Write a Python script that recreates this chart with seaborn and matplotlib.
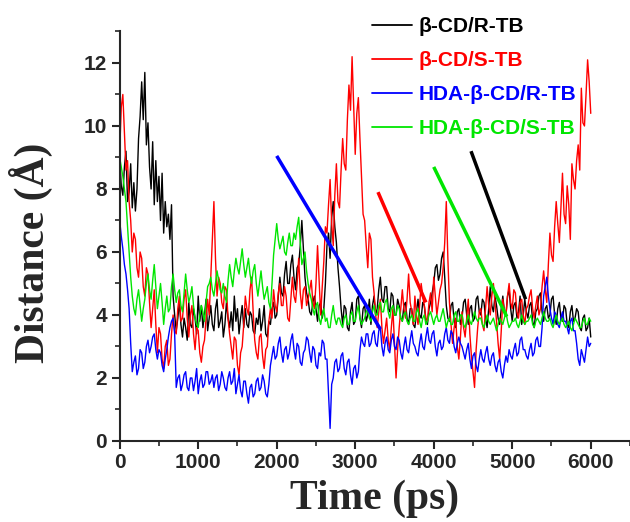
import numpy as np
import pandas as pd
import matplotlib
matplotlib.use("Agg")
import matplotlib.pyplot as plt
from matplotlib.ticker import MultipleLocator
import seaborn as sns

# Time axis (ps), one sample every 20 ps
time_ps = list(range(0, 6001, 20))

labels = ["β-CD/R-TB", "β-CD/S-TB", "HDA-β-CD/R-TB", "HDA-β-CD/S-TB"]
colors = ["#000000", "#ff0000", "#0000ff", "#00e600"]

bcd_r = [9.0, 8.1, 7.8, 8.7, 9.2, 7.6, 7.9, 8.8, 7.4, 8.2, 7.3, 8.0, 9.6, 10.3, 11.4, 10.2, 11.7, 9.4, 10.1, 8.7,
         8.0, 9.5, 7.5, 8.9, 7.6, 8.4, 7.0, 8.5, 6.6, 7.6, 6.8, 7.2, 6.4, 7.5, 4.6, 4.0, 3.5, 3.9, 4.4, 3.7,
         3.3, 3.9, 3.6, 3.2, 4.4, 3.7, 3.6, 4.2, 3.9, 3.4, 4.6, 3.8, 4.3, 3.6, 4.0, 4.5, 3.5, 3.9, 4.3, 3.7,
         3.5, 4.2, 4.5, 3.6, 3.8, 4.1, 3.3, 3.7, 4.4, 3.9, 3.6, 4.1, 3.5, 4.6, 3.8, 4.2, 3.4, 3.9, 4.3, 3.6,
         4.2, 3.7, 3.6, 4.1, 4.0, 3.5, 3.4, 3.9, 3.7, 4.2, 3.5, 3.8, 4.3, 3.4, 3.3, 3.8, 3.7, 4.2, 4.4, 3.9,
         4.0, 4.6, 5.2, 4.7, 4.6, 5.3, 5.7, 5.0, 5.0, 5.6, 5.9, 5.2, 4.8, 5.5, 5.6, 6.2, 7.0, 6.1, 5.2, 4.7,
         4.5, 4.1, 4.0, 4.4, 4.6, 4.2, 3.8, 4.3, 4.4, 3.9, 4.2, 5.0, 6.2, 6.6, 5.8, 7.1, 7.6, 6.8, 6.3, 5.5,
         4.9, 4.2, 3.7, 4.3, 4.2, 3.6, 3.5, 4.1, 4.4, 3.7, 3.8, 4.5, 4.6, 3.9, 3.6, 4.2, 4.3, 3.8, 4.0, 4.5,
         3.7, 4.3, 4.6, 4.0, 4.2, 4.8, 5.2, 4.5, 4.4, 4.9, 4.9, 4.2, 4.1, 4.7, 4.6, 4.0, 4.0, 4.5, 4.3, 3.9,
         3.8, 4.3, 4.4, 3.9, 3.7, 4.2, 4.2, 3.7, 3.6, 4.1, 4.5, 4.0, 3.9, 4.4, 4.3, 3.8, 3.7, 4.2, 4.4, 4.7,
         5.0, 5.5, 5.6, 5.1, 5.3, 5.8, 6.0, 5.2, 4.3, 3.9, 3.8, 4.3, 4.4, 3.8, 3.6, 4.1, 4.2, 3.7, 3.9, 4.4,
         4.5, 4.0, 3.7, 4.2, 4.3, 3.8, 3.9, 4.5, 4.6, 4.1, 4.0, 4.5, 4.4, 3.9, 3.6, 4.2, 4.9, 4.3, 4.1, 4.6,
         4.3, 3.9, 3.7, 4.2, 4.6, 4.1, 4.0, 4.6, 4.8, 4.2, 3.8, 4.3, 4.4, 3.9, 4.1, 4.6, 3.7, 4.0, 4.5, 4.1,
         3.9, 4.3, 4.4, 3.8, 3.6, 4.1, 4.2, 4.6, 4.7, 4.1, 3.8, 4.2, 4.3, 3.9, 4.0, 4.5, 4.6, 4.0, 3.7, 4.2,
         4.4, 3.9, 3.8, 4.3, 4.2, 3.7, 3.6, 4.1, 4.3, 3.8, 3.9, 4.2, 4.1, 3.6, 3.5, 3.9, 4.0, 3.5, 3.6, 3.9,
         3.3]

bcd_s = [9.2, 10.6, 11.0, 9.8, 8.6, 8.9, 7.6, 7.0, 6.0, 6.6, 6.4, 5.5, 5.2, 6.0, 5.8, 4.9, 4.6, 5.5, 5.3, 4.4,
         3.6, 4.2, 4.8, 3.7, 2.8, 3.6, 3.4, 2.6, 2.3, 3.0, 3.2, 2.4, 2.6, 3.4, 4.0, 3.5, 3.4, 4.2, 4.6, 3.8,
         3.9, 4.5, 4.8, 3.9, 3.3, 4.0, 4.3, 3.4, 2.9, 3.6, 3.5, 2.8, 2.5, 3.0, 3.2, 3.9, 4.5, 4.0, 5.2, 6.4,
         7.6, 5.8, 4.6, 5.2, 5.0, 4.4, 4.2, 4.9, 4.8, 3.9, 3.4, 3.0, 2.6, 3.3, 3.2, 2.4, 2.1, 2.8, 3.0, 3.7,
         4.6, 4.2, 4.0, 4.8, 5.2, 4.1, 3.2, 2.8, 2.6, 3.3, 3.4, 2.7, 2.3, 2.9, 3.0, 3.8, 4.2, 3.9, 4.8, 4.3,
         4.1, 4.7, 5.0, 4.3, 4.3, 4.9, 4.6, 3.9, 3.8, 4.5, 5.2, 4.6, 4.4, 5.0, 5.8, 4.7, 4.2, 4.8, 4.9, 4.3,
         4.5, 4.8, 5.1, 4.4, 4.2, 5.0, 6.2, 5.1, 4.0, 4.9, 5.7, 6.8, 6.6, 7.5, 8.3, 6.9, 6.2, 7.8, 8.8, 7.6,
         7.4, 8.6, 9.6, 8.8, 8.6, 10.2, 11.3, 10.5, 12.2, 10.6, 9.1, 10.4, 10.9, 9.6, 8.4, 7.2, 7.0, 6.2, 5.5, 6.6,
         6.4, 5.2, 4.7, 4.0, 3.6, 4.1, 4.5, 3.6, 3.1, 3.5, 3.9, 3.2, 2.9, 3.6, 4.2, 3.1, 2.0, 2.9, 3.6, 4.2,
         4.8, 4.2, 3.9, 4.5, 5.3, 4.4, 4.1, 3.7, 4.6, 4.0, 3.7, 4.3, 5.0, 4.6, 4.3, 3.9, 3.8, 4.4, 4.7, 4.1,
         5.2, 4.6, 4.0, 4.4, 4.8, 5.0, 5.5, 6.3, 7.6, 5.8, 4.4, 3.7, 3.1, 3.6, 3.9, 3.0, 2.6, 3.3, 4.1, 3.6,
         3.3, 3.9, 4.5, 3.4, 2.7, 2.2, 1.7, 2.9, 3.6, 4.1, 4.2, 3.7, 3.5, 4.2, 4.9, 4.3, 4.0, 4.6, 5.0, 4.4,
         3.8, 3.1, 2.6, 3.5, 4.5, 4.1, 4.0, 4.6, 5.0, 4.4, 4.2, 4.8, 4.7, 4.1, 3.9, 4.4, 4.5, 4.0, 3.7, 4.2,
         4.3, 4.6, 4.8, 4.2, 3.9, 4.3, 4.6, 4.0, 4.2, 4.9, 5.4, 4.8, 4.4, 5.6, 6.6, 5.9, 5.7, 6.8, 7.6, 6.9,
         6.3, 7.4, 8.5, 7.2, 6.9, 8.1, 7.5, 6.4, 8.8, 8.3, 8.0, 8.9, 9.4, 8.6, 11.2, 10.1, 10.0, 11.0, 12.1, 11.4,
         10.4]

hda_r = [7.0, 6.5, 6.1, 5.6, 5.3, 4.8, 4.2, 3.1, 2.2, 2.5, 2.7, 2.1, 2.3, 2.9, 2.8, 2.3, 2.5, 3.0, 3.2, 2.8,
         3.0, 3.3, 3.4, 2.9, 2.6, 2.9, 2.8, 2.4, 2.2, 2.6, 2.9, 3.3, 3.6, 3.8, 3.9, 3.4, 1.7, 2.0, 2.1, 1.6,
         1.8, 2.1, 2.2, 1.7, 1.6, 2.0, 2.0, 1.6, 1.9, 2.3, 1.5, 1.9, 2.1, 1.7, 1.8, 2.2, 2.2, 1.8, 1.9, 2.1,
         1.7, 2.0, 2.1, 1.6, 1.8, 2.2, 2.0, 1.7, 1.6, 2.0, 2.2, 1.8, 1.9, 2.3, 1.5, 1.8, 2.1, 1.6, 1.4, 1.9,
         1.9, 1.5, 1.2, 1.7, 1.8, 1.4, 1.5, 1.9, 2.0, 1.6, 1.7, 2.1, 1.9, 1.5, 1.4, 1.8, 2.4, 2.7, 3.0, 2.6,
         2.7, 3.1, 3.3, 2.8, 2.5, 2.9, 3.0, 2.6, 2.8, 3.2, 3.4, 2.9, 2.6, 3.1, 3.0, 2.5, 2.4, 2.8, 2.9, 3.3,
         3.2, 2.8, 2.5, 3.0, 2.9, 2.4, 2.3, 2.8, 2.7, 3.2, 3.1, 2.6, 2.6, 1.5, 0.4, 1.8, 2.0, 2.5, 2.6, 2.2,
         2.3, 2.7, 2.8, 2.3, 2.1, 2.5, 2.6, 2.1, 1.8, 2.3, 2.4, 2.0, 2.2, 2.9, 3.3, 3.1, 3.0, 3.4, 3.4, 3.0,
         3.1, 3.4, 3.5, 3.1, 3.0, 3.5, 3.6, 3.0, 2.7, 3.1, 3.3, 2.9, 2.8, 3.2, 3.4, 3.0, 2.9, 3.3, 3.2, 2.8,
         2.6, 3.0, 3.3, 2.9, 2.8, 3.2, 3.5, 3.1, 3.0, 2.8, 2.7, 3.1, 3.4, 3.0, 2.9, 3.3, 3.6, 3.2, 3.1, 3.4,
         3.5, 3.0, 2.7, 3.1, 3.2, 2.9, 3.0, 3.4, 3.6, 3.2, 3.1, 3.5, 3.4, 3.0, 2.8, 3.1, 3.3, 3.1, 3.0, 2.8,
         2.6, 2.9, 3.1, 2.6, 2.3, 2.7, 2.8, 2.4, 2.2, 2.6, 2.9, 2.6, 2.5, 2.8, 3.0, 2.6, 2.4, 2.7, 2.8, 2.4,
         2.2, 2.5, 2.6, 2.2, 2.0, 2.4, 2.7, 2.5, 2.9, 2.7, 2.6, 2.9, 3.1, 2.7, 2.8, 3.2, 3.3, 2.9, 2.9, 2.7,
         2.6, 2.9, 3.1, 2.7, 2.8, 3.2, 3.3, 3.0, 3.0, 3.6, 4.6, 4.9, 5.2, 4.6, 4.2, 3.9, 3.7, 4.1, 4.0, 3.7,
         3.6, 3.9, 4.1, 3.8, 3.8, 3.6, 3.4, 3.8, 3.9, 3.5, 3.5, 3.1, 2.6, 2.4, 2.9, 2.7, 2.5, 2.9, 3.3, 3.0,
         3.1]

hda_s = [9.0, 8.7, 8.4, 8.0, 7.6, 6.8, 6.0, 5.2, 4.6, 4.2, 4.0, 4.5, 4.8, 4.3, 3.8, 4.2, 4.5, 5.0, 5.3, 4.8,
         4.5, 5.1, 5.6, 4.9, 4.2, 4.6, 5.0, 4.4, 3.7, 4.2, 4.6, 4.1, 4.2, 4.9, 5.3, 4.8, 4.4, 4.7, 4.8, 4.3,
         4.1, 4.7, 5.3, 4.8, 4.4, 4.6, 4.9, 4.3, 3.9, 3.7, 3.6, 4.0, 4.3, 4.1, 3.8, 4.4, 4.9, 5.0, 5.2, 4.8,
         4.6, 5.0, 5.4, 5.1, 4.8, 4.7, 5.0, 4.6, 4.4, 5.1, 5.6, 5.2, 4.9, 5.4, 5.8, 5.5, 5.3, 5.7, 6.1, 5.6,
         5.2, 5.5, 5.8, 5.3, 5.0, 5.4, 5.6, 5.0, 4.6, 5.0, 5.4, 4.9, 4.5, 4.7, 4.9, 4.4, 4.2, 5.0, 5.9, 6.4,
         6.9, 6.4, 6.1, 6.3, 6.5, 6.0, 5.9, 6.3, 6.6, 6.2, 6.2, 6.6, 6.4, 6.8, 7.1, 6.3, 5.6, 5.8, 6.0, 5.4,
         5.0, 4.7, 4.5, 4.2, 4.0, 4.3, 4.4, 3.9, 3.7, 4.0, 4.2, 3.8, 3.9, 3.6, 3.6, 4.0, 4.3, 3.9, 3.7, 3.9,
         3.9, 3.7, 3.6, 3.9, 4.0, 3.7, 3.7, 4.0, 4.1, 3.8, 3.8, 4.1, 4.3, 3.9, 3.7, 3.8, 3.9, 4.1, 4.2, 3.9,
         3.8, 4.1, 4.3, 4.0, 4.0, 4.3, 4.4, 4.1, 4.1, 4.4, 4.5, 4.1, 3.9, 4.2, 4.3, 4.0, 4.0, 4.3, 4.2, 3.9,
         3.8, 4.0, 4.1, 3.8, 3.7, 3.9, 4.0, 3.8, 3.8, 4.1, 4.2, 3.8, 3.6, 3.9, 4.0, 3.7, 3.8, 4.0, 4.1, 3.9,
         3.7, 3.9, 4.0, 3.8, 3.8, 4.0, 4.2, 3.9, 3.6, 3.8, 3.9, 3.7, 3.7, 4.0, 4.1, 3.8, 3.8, 4.0, 4.0, 3.7,
         3.6, 3.8, 4.0, 3.8, 3.7, 3.9, 4.1, 3.9, 3.8, 3.9, 3.9, 3.7, 3.6, 3.8, 4.0, 3.8, 3.7, 3.8, 3.9, 3.7,
         3.5, 3.7, 3.9, 3.8, 3.7, 3.9, 4.1, 3.8, 3.6, 3.7, 3.8, 3.8, 3.9, 3.7, 3.6, 3.8, 4.0, 3.8, 3.7, 3.8,
         3.8, 3.9, 4.0, 3.7, 3.6, 3.8, 3.9, 3.8, 3.7, 3.9, 4.1, 3.9, 3.8, 3.8, 3.9, 3.7, 3.6, 3.8, 4.0, 3.8,
         3.7, 3.8, 3.9, 3.7, 3.6, 3.7, 3.8, 3.6, 3.5, 3.7, 3.9, 3.8, 3.7, 3.6, 3.6, 3.8, 3.9, 3.7, 3.7, 3.9,
         3.8]

# Pointer lines from the legend area down to where each system settles
ptr_x0 = [4475, 3290, 2000, 4000]
ptr_y0 = [9.2, 7.9, 9.05, 8.7]
ptr_x1 = [5170, 3900, 3320, 4930]
ptr_y1 = [4.5, 4.4, 3.55, 3.95]

# Long-form table for seaborn
frames = []
for lab, vals in zip(labels, [bcd_r, bcd_s, hda_r, hda_s]):
    frames.append(pd.DataFrame({"Time": time_ps, "Distance": vals, "System": lab}))
df = pd.concat(frames, ignore_index=True)

sns.set_style("ticks")
plt.rcParams["font.family"] = ["Liberation Sans", "DejaVu Sans"]

fig = plt.figure(figsize=(6.3, 5.22), dpi=100)
ax = fig.add_axes([0.19, 0.1552, 0.81, 0.7845])

sns.lineplot(data=df, x="Time", y="Distance", hue="System", hue_order=labels,
             palette=colors, estimator=None, sort=False, lw=1.0, ax=ax)

# pointer lines
for c, x0, y0, x1, y1 in zip(colors, ptr_x0, ptr_y0, ptr_x1, ptr_y1):
    ax.plot([x0, x1], [y0, y1], color=c, lw=2.5, solid_capstyle="butt")

ax.set_xlim(0, 6500)
ax.set_ylim(0, 13)
ax.xaxis.set_minor_locator(MultipleLocator(500))
ax.yaxis.set_major_locator(MultipleLocator(2))
ax.yaxis.set_minor_locator(MultipleLocator(1))
ax.set_xticks(range(0, 6001, 1000))
ax.tick_params(which="major", direction="out", length=6, width=1.5, pad=3, labelsize=15)
ax.tick_params(which="minor", direction="out", length=3.5, width=1.2)
for lbl in ax.get_xticklabels() + ax.get_yticklabels():
    lbl.set_fontweight("bold")
sns.despine(ax=ax)
for s in ["left", "bottom"]:
    ax.spines[s].set_linewidth(1.5)

ax.set_xlabel("Time (ps)", fontsize=30, fontweight="bold", family="Liberation Serif")
ax.set_ylabel("Distance (Å)", fontsize=30, fontweight="bold", family="Liberation Serif")
ax.xaxis.set_label_coords(0.5, -0.095)
ax.yaxis.set_label_coords(-0.13, 0.46)

handles, _ = ax.get_legend_handles_labels()
leg = ax.legend(handles[:4], labels, loc="upper left", bbox_to_anchor=(372 / 630, 1 - 17 / 522),
                bbox_transform=fig.transFigure, frameon=False, handlelength=1.92,
                handletextpad=0.3, labelspacing=0.72, borderaxespad=0, borderpad=0,
                prop={"family": "Liberation Sans", "weight": "bold", "size": 15})
for h, c in zip(leg.get_lines(), colors):
    h.set_color(c)
    h.set_linewidth(1.3)
for t, c in zip(leg.get_texts(), colors):
    t.set_color(c)

fig.savefig("out.png", dpi=100)
